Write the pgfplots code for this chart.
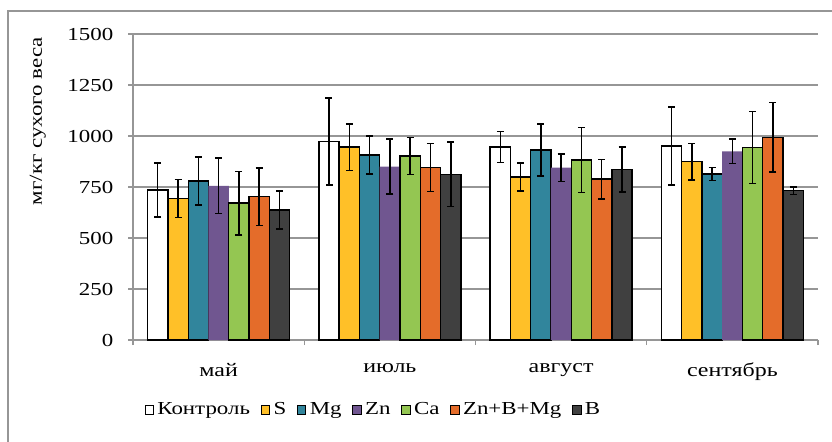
\documentclass[border=0pt]{standalone}
\usepackage{fontspec}
\setmainfont{Liberation Serif}[FakeStretch=1.25]
\usepackage{pgfplots}
\pgfplotsset{compat=1.18}
\definecolor{cS}{RGB}{255,192,40}
\definecolor{cMg}{RGB}{49,133,156}
\definecolor{cZn}{RGB}{112,86,144}
\definecolor{cCa}{RGB}{148,198,82}
\definecolor{cZBM}{RGB}{228,108,42}
\definecolor{cB}{RGB}{64,64,64}
\definecolor{gr}{RGB}{150,150,150}
\pgfplotsset{
  eb/.style={
    /pgfplots/error bars/y dir=both,
    /pgfplots/error bars/y explicit,
    /pgfplots/error bars/error bar style={black,line width=0.9pt},
    /pgfplots/error bars/error mark options={black,line width=0.9pt,rotate=90,mark size=2.1pt}
  }
}
\begin{document}
\fontsize{11}{13}\selectfont
\begin{tikzpicture}
\useasboundingbox (0,0) rectangle (499.2pt,264.6pt);
\draw[gr, line width=0.8pt] (4.8pt,-2pt) -- (4.8pt,258pt) -- (502pt,258pt);
\begin{axis}[
  at={(79.8pt,60.6pt)}, anchor=south west,
  scale only axis, width=411pt, height=183.6pt,
  ymin=0, ymax=1500, ytick={0,250,...,1500},
  xmin=-0.5, xmax=3.5,
  xtick={-0.5,0.5,1.5,2.5,3.5},
  x tick label as interval,
  xticklabels={май,июль,август,сентябрь},
  xticklabel style={yshift=-7pt, font=\fontsize{11.5}{13}\selectfont},
  yticklabel style={xshift=-5pt},
  ymajorgrids, grid style={gr, line width=0.8pt},
  axis y line*=left, axis x line*=bottom,
  axis line style={gr, line width=0.8pt},
  tick style={gr, line width=0.8pt},
  major tick length=3pt, tick align=outside,
  /pgf/number format/assume math mode=true,
  /pgf/number format/set thousands separator={},
  ylabel={мг/кг сухого веса},
  ylabel style={at={(axis description cs:-0.139,0.715)}, anchor=center},
  ybar=0pt, bar width=0.1185,
  legend columns=7,
  legend style={draw=none, at={(axis description cs:0.352,-0.229)}, anchor=center,
    /tikz/every even column/.append style={column sep=4.5pt}},
  legend image code/.code={\draw[#1, line width=0.6pt] (0pt,-2.5pt) rectangle (5pt,2.5pt);},
]
\addplot[fill=white, draw=black, line width=0.8pt, eb] coordinates {
 (0,735) +- (0,132) (1,974) +- (0,213) (2,946) +- (0,75) (3,951) +- (0,191)};
\addplot[fill=cS, draw=black, line width=0.8pt, eb] coordinates {
 (0,694) +- (0,93) (1,946) +- (0,114) (2,799) +- (0,68) (3,874) +- (0,90)};
\addplot[fill=cMg, draw=black, line width=0.8pt, eb] coordinates {
 (0,779) +- (0,118) (1,907) +- (0,94) (2,931) +- (0,127) (3,814) +- (0,32)};
\addplot[fill=cZn, draw=none, eb] coordinates {
 (0,756) +- (0,137) (1,850) +- (0,135) (2,845) +- (0,67) (3,925) +- (0,60)};
\addplot[fill=cCa, draw=black, line width=0.8pt, eb] coordinates {
 (0,671) +- (0,156) (1,902) +- (0,90) (2,882) +- (0,160) (3,943) +- (0,176)};
\addplot[fill=cZBM, draw=black, line width=0.8pt, eb] coordinates {
 (0,703) +- (0,141) (1,845) +- (0,118) (2,789) +- (0,97) (3,993) +- (0,170)};
\addplot[fill=cB, draw=black, line width=0.8pt, eb] coordinates {
 (0,637) +- (0,93) (1,812) +- (0,158) (2,836) +- (0,110) (3,732) +- (0,19)};
\legend{Контроль,S,Mg,Zn,Ca,Zn+B+Mg,B}
\end{axis}
\end{tikzpicture}
\end{document}
